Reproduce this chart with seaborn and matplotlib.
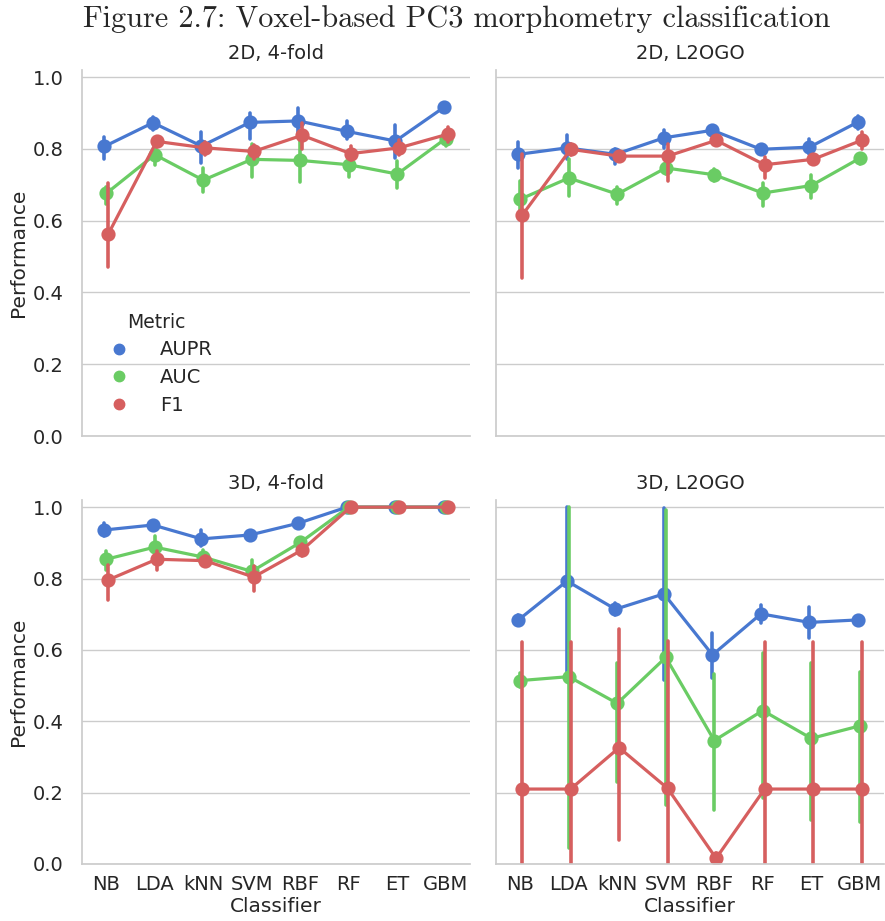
import numpy as np
import pandas as pd
import matplotlib
matplotlib.use('Agg')
import matplotlib.pyplot as plt
import seaborn as sns
from matplotlib.lines import Line2D

classifiers = ['NB', 'LDA', 'kNN', 'SVM', 'RBF', 'RF', 'ET', 'GBM']
metrics = ['AUPR', 'AUC', 'F1']
panel_titles = ['2D, 4-fold', '2D, L2OGO', '3D, 4-fold', '3D, L2OGO']

# --- 2D, 4-fold : point estimate, lower CI, upper CI ---
aupr_2d_4f = [0.807, 0.873, 0.808, 0.874, 0.878, 0.849, 0.822, 0.916]
aupr_2d_4f_lo = [0.772, 0.852, 0.761, 0.829, 0.833, 0.829, 0.774, 0.908]
aupr_2d_4f_hi = [0.833, 0.889, 0.846, 0.899, 0.913, 0.877, 0.866, 0.922]
auc_2d_4f = [0.676, 0.784, 0.713, 0.771, 0.768, 0.756, 0.730, 0.829]
auc_2d_4f_lo = [0.646, 0.754, 0.679, 0.721, 0.709, 0.721, 0.690, 0.808]
auc_2d_4f_hi = [0.693, 0.810, 0.746, 0.815, 0.829, 0.782, 0.765, 0.843]
f1_2d_4f = [0.562, 0.821, 0.803, 0.793, 0.838, 0.787, 0.803, 0.841]
f1_2d_4f_lo = [0.471, 0.805, 0.782, 0.772, 0.801, 0.768, 0.782, 0.819]
f1_2d_4f_hi = [0.705, 0.833, 0.819, 0.812, 0.871, 0.808, 0.824, 0.861]

# --- 2D, L2OGO ---
aupr_2d_lo = [0.785, 0.803, 0.785, 0.831, 0.852, 0.799, 0.805, 0.875]
aupr_2d_lo_lo = [0.746, 0.772, 0.758, 0.802, 0.846, 0.791, 0.787, 0.855]
aupr_2d_lo_hi = [0.819, 0.840, 0.801, 0.852, 0.859, 0.805, 0.829, 0.892]
auc_2d_lo = [0.660, 0.719, 0.674, 0.747, 0.728, 0.677, 0.698, 0.774]
auc_2d_lo_lo = [0.623, 0.669, 0.646, 0.730, 0.712, 0.641, 0.662, 0.758]
auc_2d_lo_hi = [0.712, 0.772, 0.693, 0.768, 0.743, 0.705, 0.726, 0.787]
f1_2d_lo = [0.615, 0.799, 0.780, 0.780, 0.824, 0.756, 0.771, 0.824]
f1_2d_lo_lo = [0.440, 0.782, 0.768, 0.712, 0.815, 0.718, 0.761, 0.801]
f1_2d_lo_hi = [0.787, 0.815, 0.791, 0.815, 0.833, 0.777, 0.782, 0.846]

# --- 3D, 4-fold ---
aupr_3d_4f = [0.936, 0.950, 0.911, 0.922, 0.955, 1.0, 1.0, 1.0]
aupr_3d_4f_lo = [0.918, 0.941, 0.890, 0.916, 0.948, 1.0, 1.0, 1.0]
aupr_3d_4f_hi = [0.955, 0.960, 0.936, 0.930, 0.963, 1.0, 1.0, 1.0]
auc_3d_4f = [0.854, 0.888, 0.860, 0.820, 0.901, 1.0, 1.0, 1.0]
auc_3d_4f_lo = [0.824, 0.857, 0.843, 0.792, 0.888, 1.0, 1.0, 1.0]
auc_3d_4f_hi = [0.876, 0.920, 0.880, 0.852, 0.913, 1.0, 1.0, 1.0]
f1_3d_4f = [0.796, 0.854, 0.850, 0.804, 0.880, 1.0, 1.0, 1.0]
f1_3d_4f_lo = [0.740, 0.824, 0.834, 0.764, 0.864, 1.0, 1.0, 1.0]
f1_3d_4f_hi = [0.838, 0.876, 0.864, 0.834, 0.897, 1.0, 1.0, 1.0]

# --- 3D, L2OGO ---
aupr_3d_lo = [0.684, 0.793, 0.714, 0.757, 0.586, 0.701, 0.677, 0.684]
aupr_3d_lo_lo = [0.670, 0.535, 0.698, 0.516, 0.521, 0.675, 0.633, 0.673]
aupr_3d_lo_hi = [0.698, 1.000, 0.731, 0.997, 0.647, 0.726, 0.721, 0.695]
auc_3d_lo = [0.514, 0.525, 0.450, 0.579, 0.346, 0.430, 0.352, 0.387]
auc_3d_lo_lo = [0.497, 0.044, 0.231, 0.165, 0.151, 0.184, 0.123, 0.119]
auc_3d_lo_hi = [0.535, 1.000, 0.563, 0.993, 0.533, 0.591, 0.563, 0.539]
f1_3d_lo = [0.210, 0.210, 0.326, 0.212, 0.016, 0.210, 0.210, 0.210]
f1_3d_lo_lo = [0.0, 0.0, 0.067, 0.0, 0.0, 0.0, 0.0, 0.0]
f1_3d_lo_hi = [0.623, 0.623, 0.658, 0.626, 0.030, 0.623, 0.623, 0.623]

panel_data = [
    [(aupr_2d_4f, aupr_2d_4f_lo, aupr_2d_4f_hi), (auc_2d_4f, auc_2d_4f_lo, auc_2d_4f_hi), (f1_2d_4f, f1_2d_4f_lo, f1_2d_4f_hi)],
    [(aupr_2d_lo, aupr_2d_lo_lo, aupr_2d_lo_hi), (auc_2d_lo, auc_2d_lo_lo, auc_2d_lo_hi), (f1_2d_lo, f1_2d_lo_lo, f1_2d_lo_hi)],
    [(aupr_3d_4f, aupr_3d_4f_lo, aupr_3d_4f_hi), (auc_3d_4f, auc_3d_4f_lo, auc_3d_4f_hi), (f1_3d_4f, f1_3d_4f_lo, f1_3d_4f_hi)],
    [(aupr_3d_lo, aupr_3d_lo_lo, aupr_3d_lo_hi), (auc_3d_lo, auc_3d_lo_lo, auc_3d_lo_hi), (f1_3d_lo, f1_3d_lo_lo, f1_3d_lo_hi)],
]

# long table: three rows (lower, estimate, upper) per point -> median gives the point, min/max the bar
rows = []
for title, series in zip(panel_titles, panel_data):
    for metric, (mid, lo, hi) in zip(metrics, series):
        for i, clf in enumerate(classifiers):
            for v in (lo[i], mid[i], hi[i]):
                rows.append({'Panel': title, 'Metric': metric, 'Classifier': clf, 'Performance': v})
df = pd.DataFrame(rows)

sns.set_theme(style='whitegrid')
plt.rcParams['font.family'] = ['DejaVu Sans']
plt.rcParams['ytick.major.pad'] = 7
plt.rcParams['xtick.major.pad'] = 2

colors = sns.color_palette('muted6', 3)

fig = plt.figure(figsize=(8.85, 9.21), dpi=100)
positions = [
    [0.0927, 0.5266, 0.4384, 0.3974],
    [0.5605, 0.5266, 0.4384, 0.3974],
    [0.0927, 0.0619, 0.4384, 0.3952],
    [0.5605, 0.0619, 0.4384, 0.3952],
]

for k, (title, pos) in enumerate(zip(panel_titles, positions)):
    ax = fig.add_axes(pos)
    sub = df[df['Panel'] == title]
    sns.pointplot(data=sub, x='Classifier', y='Performance', hue='Metric',
                  order=classifiers, hue_order=metrics, palette=colors,
                  estimator=np.median, errorbar=lambda v: (v.min(), v.max()),
                  dodge=True, markersize=8.5, linewidth=2.3,
                  err_kws={'linewidth': 2.6}, legend=False, ax=ax)
    ax.set_ylim(0, 1.02)
    ax.set_yticks([0.0, 0.2, 0.4, 0.6, 0.8, 1.0])
    ax.set_yticklabels(['0.0', '0.2', '0.4', '0.6', '0.8', '1.0'])
    ax.xaxis.grid(False)
    ax.tick_params(labelsize=14, colors='.15')
    ax.set_title(title, fontsize=14, color='.15', pad=8)
    sns.despine(ax=ax)
    if k % 2 == 0:
        ax.set_ylabel('Performance', fontsize=14.5, color='.15')
    else:
        ax.set_ylabel('')
        ax.tick_params(labelleft=False)
    if k >= 2:
        ax.set_xlabel('Classifier', fontsize=14.5, color='.15', labelpad=2)
    else:
        ax.set_xlabel('')
        ax.tick_params(labelbottom=False)
    if k == 0:
        handles = [Line2D([], [], marker='o', ls='', color=c, markersize=7.5) for c in colors]
        leg = ax.legend(handles, metrics, title='Metric', loc='upper left',
                        bbox_to_anchor=(0.0, 0.385), frameon=False,
                        fontsize=14, title_fontsize=13.5, handletextpad=1.1,
                        labelspacing=0.45)

fig.text(0.516, 0.995, 'Figure 2.7: Voxel-based PC3 morphometry classification',
         ha='center', va='top', family='cmr10', fontsize=21.8)

fig.savefig('out.png', dpi=100)
